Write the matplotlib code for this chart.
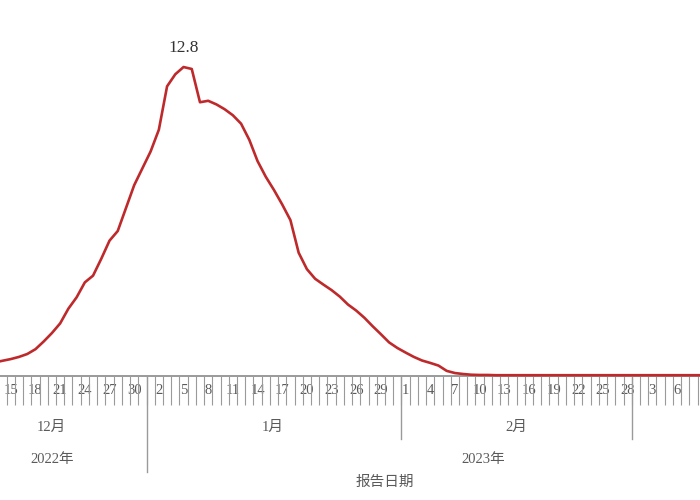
import matplotlib
matplotlib.use("Agg")
import matplotlib.pyplot as plt
import matplotlib.dates as mdates
import numpy as np

START = np.datetime64("2022-12-13")
VALUES = [
    0.55, 0.62, 0.69, 0.78, 0.90, 1.10, 1.42, 1.77, 2.17, 2.78,   # 12/13 - 12/22
    3.25, 3.87, 4.15, 4.85, 5.60, 6.00, 6.95, 7.90, 8.60,         # 12/23 - 12/31
    9.30, 10.2, 12.0, 12.5, 12.8, 12.72, 11.34, 11.40, 11.25, 11.05,  # 1/1 - 1/10
    10.80, 10.45, 9.78, 8.90, 8.25, 7.70, 7.10, 6.45, 5.10, 4.42,     # 1/11 - 1/20
    4.02, 3.78, 3.55, 3.28, 2.95, 2.70, 2.40, 2.05, 1.72, 1.38, 1.15,  # 1/21 - 1/31
    0.96, 0.78, 0.63, 0.53, 0.42, 0.20, 0.11, 0.07, 0.04, 0.03,       # 2/1 - 2/10
    0.03, 0.02, 0.02, 0.02, 0.02, 0.02, 0.02, 0.02, 0.02, 0.02,       # 2/11 - 2/20
    0.02, 0.02, 0.02, 0.02, 0.02, 0.02, 0.02, 0.02,                   # 2/21 - 2/28
    0.02, 0.02, 0.02, 0.02, 0.02, 0.02, 0.02, 0.02, 0.02, 0.02,       # 3/1 - 3/10
]
DATES = START + np.arange(len(VALUES))
PEAK_LABEL = "12.8"
MONTH_LABELS = ["12月", "1月", "2月"]
YEAR_LABELS = ["2022年", "2023年"]
XLABEL = "报告日期"

RED = "#BE2A2C"
GREY = "#9A9A9A"
TEXT = "#5A5A5A"
FAMILY = ["Liberation Serif", "Noto Sans CJK SC"]

plt.rcParams["font.family"] = FAMILY

fig = plt.figure(figsize=(7, 5), dpi=100)
ax = fig.add_axes([0, 1 - 375.7 / 500, 1, 375.7 / 500])

origin = mdates.date2num(np.datetime64("2022-12-01"))
centers = mdates.date2num(DATES) + 0.5
ax.plot(centers, VALUES, color=RED, linewidth=1.9, solid_joinstyle="round", zorder=3, clip_on=False)

peak = int(np.argmax(VALUES))
ax.annotate(PEAK_LABEL, (centers[peak], VALUES[peak]), xytext=(0, 14), textcoords="offset points",
            ha="center", va="center", fontsize=12.5, color="#333333")

day_starts = mdates.date2num(DATES)
ax.set_xticks(day_starts, minor=True)
label_days = DATES[2::3]
ax.set_xticks(mdates.date2num(label_days) + 0.5)
ax.set_xticklabels([str(d.astype(object).day) for d in label_days])
ax.tick_params(axis="x", which="minor", length=21, width=0.8, color=GREY, direction="out")
ax.tick_params(axis="x", which="major", length=0, pad=6, labelsize=10.5, labelcolor=TEXT)
ax.set_yticks([])

# limits after the ticks, set_xticks widens the view otherwise
ax.set_xlim(origin + 13.185, origin + 98.30)
ax.set_ylim(0, 15.58)

for side in ("left", "top", "right"):
    ax.spines[side].set_visible(False)
ax.spines["bottom"].set_color(GREY)
ax.spines["bottom"].set_linewidth(1.4)
ax.spines["bottom"].set_zorder(2)

# month separators below the axis
trans = ax.get_xaxis_transform()
for day, depth in (("2023-01-01", 96), ("2023-02-01", 63), ("2023-03-01", 63)):
    x = mdates.date2num(np.datetime64(day))
    ax.plot([x, x], [0, -depth / 375.7], transform=trans, color=GREY, linewidth=1.0, clip_on=False)

def px(x, y):
    return x / 700, 1 - y / 500

for label, x in zip(MONTH_LABELS, (51.7, 273, 516.7)):
    fig.text(*px(x, 427), label, ha="center", va="center", fontsize=10.5, color=TEXT)
for label, x in zip(YEAR_LABELS, (51.7, 483)):
    fig.text(*px(x, 460), label, ha="center", va="center", fontsize=10.5, color=TEXT)
fig.text(*px(385, 482), XLABEL, ha="center", va="center", fontsize=10.5, color=TEXT,
         family=["Noto Sans CJK SC", "DejaVu Sans"])

fig.savefig("out.png", dpi=100, facecolor="white")
